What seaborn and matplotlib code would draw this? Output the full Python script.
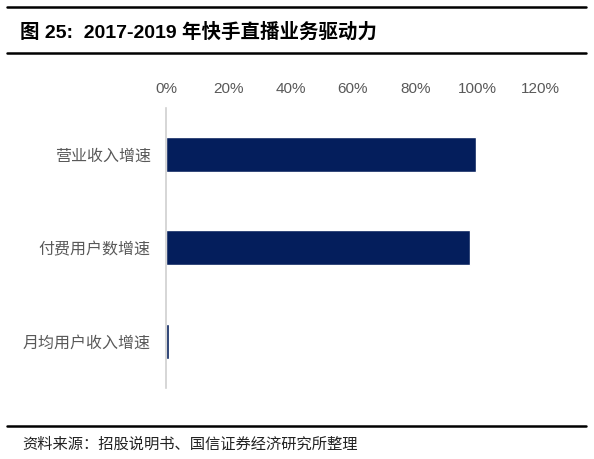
import matplotlib
matplotlib.use("Agg")
import matplotlib.pyplot as plt
import seaborn as sns
import pandas as pd
from matplotlib.ticker import PercentFormatter
from matplotlib.lines import Line2D

# data
categories = ["营业收入增速", "付费用户数增速", "月均用户收入增速"]
growth = [0.996, 0.974, 0.011]
x_ticks = [0, 0.2, 0.4, 0.6, 0.8, 1.0, 1.2]

title = "图 25:  2017-2019 年快手直播业务驱动力"
source = "资料来源：招股说明书、国信证券经济研究所整理"

df = pd.DataFrame({"category": categories, "growth": growth})

sns.set_style("white")
plt.rcParams["font.family"] = ["Liberation Sans", "Noto Sans CJK SC", "DejaVu Sans"]

fig = plt.figure(figsize=(5.94, 4.59), dpi=100)
ax = fig.add_axes([0.2795, 0.1547, 0.6295, 0.61])

sns.barplot(data=df, x="growth", y="category", color="#041e5c",
            saturation=1, width=0.375, ax=ax)

ax.set_xlim(0, 1.2)
ax.set_ylim(2.5, -0.5)
ax.set_xticks(x_ticks)
ax.xaxis.set_major_formatter(PercentFormatter(1.0, decimals=0))
ax.xaxis.tick_top()
ax.tick_params(axis="x", length=0, pad=9, labelsize=11, colors="#595959")
ax.tick_params(axis="y", length=0, pad=11, labelsize=11.5, colors="#595959")
ax.set_xlabel("")
ax.set_ylabel("")
for side in ["top", "right", "bottom"]:
    ax.spines[side].set_visible(False)
ax.spines["left"].set_color("#d0d0d0")
ax.spines["left"].set_linewidth(1.2)

# title block with rules
fig.add_artist(Line2D([0.012, 0.987], [1 - 7 / 459, 1 - 7 / 459], color="black", lw=1.8))
fig.add_artist(Line2D([0.012, 0.987], [1 - 53 / 459, 1 - 53 / 459], color="black", lw=1.8))
fig.text(20 / 594, 1 - 32 / 459, title, fontsize=14, fontweight="bold",
         va="center", ha="left", color="black")

# source block
fig.add_artist(Line2D([0.012, 0.987], [1 - 426 / 459, 1 - 426 / 459], color="black", lw=1.8))
fig.text(22 / 594, 1 - 445 / 459, source, fontsize=11, va="center", ha="left",
         color="#222222")

fig.savefig("out.png", dpi=100)
